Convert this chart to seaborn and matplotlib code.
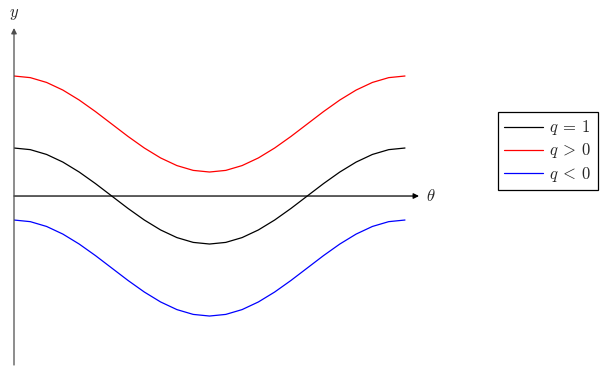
import pandas as pd
import matplotlib
matplotlib.use('Agg')
import matplotlib.pyplot as plt
import seaborn as sns

# --- Sampled curves (theta in degrees) ---
theta = [0, 15, 30, 45, 60, 75, 90, 105, 120, 135, 150, 165, 180,
         195, 210, 225, 240, 255, 270, 285, 300, 315, 330, 345, 360]
y_one = [1.0, 0.966, 0.866, 0.707, 0.5, 0.259, 0.0, -0.259, -0.5, -0.707, -0.866, -0.966, -1.0,
         -0.966, -0.866, -0.707, -0.5, -0.259, 0.0, 0.259, 0.5, 0.707, 0.866, 0.966, 1.0]
y_pos = [2.5, 2.466, 2.366, 2.207, 2.0, 1.759, 1.5, 1.241, 1.0, 0.793, 0.634, 0.534, 0.5,
         0.534, 0.634, 0.793, 1.0, 1.241, 1.5, 1.759, 2.0, 2.207, 2.366, 2.466, 2.5]
y_neg = [-0.5, -0.534, -0.634, -0.793, -1.0, -1.241, -1.5, -1.759, -2.0, -2.207, -2.366, -2.466, -2.5,
         -2.466, -2.366, -2.207, -2.0, -1.759, -1.5, -1.241, -1.0, -0.793, -0.634, -0.534, -0.5]
labels = [r'$q\:=\:1$', r'$q\:>\:0$', r'$q\:<\:0$']
colors = ['black', 'red', 'blue']

df = pd.concat([
    pd.DataFrame({'theta': theta, 'y': y_one, 'case': labels[0]}),
    pd.DataFrame({'theta': theta, 'y': y_pos, 'case': labels[1]}),
    pd.DataFrame({'theta': theta, 'y': y_neg, 'case': labels[2]}),
])

sns.set_style('white')
plt.rcParams['mathtext.fontset'] = 'cm'

fig = plt.figure(figsize=(6.03, 3.67), dpi=100)
ax = fig.add_axes([14 / 603, 2 / 367, 405 / 603, 337 / 367])

sns.lineplot(data=df, x='theta', y='y', hue='case', hue_order=labels,
             palette=dict(zip(labels, colors)), linewidth=0.9, ax=ax, sort=False)

ax.set_xlim(0, 372.9)
ax.set_ylim(-3.52, 3.5)
for s in ax.spines.values():
    s.set_visible(False)
ax.set_xticks([])
ax.set_yticks([])
ax.set_xlabel('')
ax.set_ylabel('')

# --- Axis arrows ---
ax.annotate('', xy=(1, 0), xycoords=('axes fraction', 'data'), xytext=(0, 0),
            textcoords=('axes fraction', 'data'),
            arrowprops=dict(arrowstyle='-|>', color='black', lw=0.9, mutation_scale=8,
                            shrinkA=0, shrinkB=0))
ax.annotate('', xy=(0, 1), xycoords='axes fraction', xytext=(0, 0),
            textcoords='axes fraction',
            arrowprops=dict(arrowstyle='-|>', color='0.3', lw=0.9, mutation_scale=8,
                            shrinkA=0, shrinkB=0))
ax.text(1.018, 0, r'$\theta$', transform=ax.get_yaxis_transform(), fontsize=12,
        ha='left', va='center')
fig.text(14 / 603, 1 - 13 / 367, r'$y$', fontsize=12, ha='center', va='center')

ax.legend(loc='center', bbox_to_anchor=(548 / 603, 1 - 151 / 367),
          bbox_transform=fig.transFigure, fontsize=12, frameon=True, fancybox=False,
          edgecolor='black', framealpha=1, handlelength=2.3, borderpad=0.4,
          labelspacing=0.25, handletextpad=0.4, title=None)
ax.get_legend().get_frame().set_linewidth(0.9)

plt.savefig('out.png', dpi=100)
